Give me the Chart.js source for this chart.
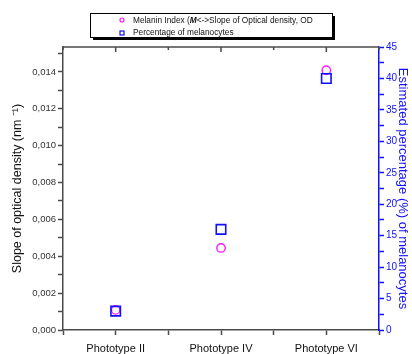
<!DOCTYPE html>
<html>
<head>
<meta charset="utf-8">
<script src="https://cdn.jsdelivr.net/npm/chart.js@4.4.1/dist/chart.umd.min.js"></script>
<style>
  html, body { margin: 0; padding: 0; background: #fff; }
  #wrap { width: 412px; height: 354px; }
</style>
</head>
<body>
<div id="wrap"><canvas id="chart" width="412" height="354"></canvas></div>
<script>
// values
const categories = ['Phototype II', 'Phototype IV', 'Phototype VI'];
const melaninIndex = [0.00109, 0.00445, 0.01409];   // left axis, slope of OD
const melanocytes = [3, 16, 40];                    // right axis, %
const leftTicks = [0, 0.002, 0.004, 0.006, 0.008, 0.010, 0.012, 0.014];
const rightTicks = [0, 5, 10, 15, 20, 25, 30, 35, 40, 45];

const magenta = '#ff1aff';
const blue = '#1010ff';
const axisGrey = '#4a4a4a';
const font = "'Liberation Sans', Arial, sans-serif";

function fmtComma(v) {
    return v.toFixed(3).replace('.', ',');
}

// legend box + top frame drawn by hand
const framePlugin = {
    id: 'frame',
    afterDraw(chart) {
        const ctx = chart.ctx;
        const area = chart.chartArea;
        const x = chart.scales.x;
        ctx.save();
        // top border with inward ticks
        ctx.strokeStyle = axisGrey;
        ctx.lineWidth = 1.5;
        ctx.beginPath();
        ctx.moveTo(area.left, area.top);
        ctx.lineTo(area.right, area.top);
        ctx.stroke();
        x.ticks.forEach((t) => {
            const px = x.getPixelForValue(t.value);
            const len = Number.isInteger(t.value) ? 5 : 3;
            ctx.beginPath();
            ctx.moveTo(px, area.top);
            ctx.lineTo(px, area.top + len);
            ctx.stroke();
        });

        // legend
        const bx = 90, by = 13, bw = 242, bh = 24;
        ctx.fillStyle = '#000';
        ctx.fillRect(bx + 3, by + 3, bw, bh);
        ctx.fillStyle = '#fff';
        ctx.fillRect(bx, by, bw, bh);
        ctx.strokeStyle = '#000';
        ctx.lineWidth = 1;
        ctx.strokeRect(bx + 0.5, by + 0.5, bw, bh);

        ctx.lineWidth = 1.2;
        ctx.strokeStyle = magenta;
        ctx.beginPath();
        ctx.arc(122, 20, 2, 0, Math.PI * 2);
        ctx.stroke();
        ctx.strokeStyle = blue;
        ctx.strokeRect(120, 31, 4, 4);

        ctx.fillStyle = '#111';
        ctx.textBaseline = 'middle';
        let tx = 133;
        const parts = [
            ['Melanin Index (', '8.3px '],
            ['M', 'italic bold 8.3px '],
            ['<->Slope of Optical density, OD', '8.3px ']
        ];
        parts.forEach((p) => {
            ctx.font = p[1] + font;
            ctx.fillText(p[0], tx, 20.5);
            tx += ctx.measureText(p[0]).width;
        });
        ctx.font = '8.3px ' + font;
        ctx.fillText('Percentage of melanocytes', 133, 33);
        ctx.restore();
    }
};

const ctx = document.getElementById('chart').getContext('2d');
const myChart = new Chart(ctx, {
    type: 'scatter',
    data: {
        datasets: [{
            label: 'Percentage of melanocytes',
            data: melanocytes.map((v, i) => ({ x: i + 1, y: v })),
            yAxisID: 'y2',
            pointStyle: 'rect',
            pointRadius: 6.7,
            borderColor: blue,
            backgroundColor: 'rgba(0,0,0,0)',
            borderWidth: 1.6,
            order: 0
        }, {
            label: 'Melanin Index (M)<->Slope of Optical density, OD',
            data: melaninIndex.map((v, i) => ({ x: i + 1, y: v })),
            yAxisID: 'y',
            pointStyle: 'circle',
            pointRadius: 4.2,
            borderColor: magenta,
            backgroundColor: 'rgba(0,0,0,0)',
            borderWidth: 1.4,
            order: 1
        }]
    },
    options: {
        responsive: false,
        animation: false,
        layout: { padding: { top: 47, left: 0, right: 0, bottom: 0 } },
        plugins: {
            legend: { display: false },
            tooltip: { enabled: false }
        },
        scales: {
            x: {
                type: 'linear',
                position: 'bottom',
                min: 0.5,
                max: 3.5,
                ticks: {
                    stepSize: 0.5,
                    autoSkip: false,
                    maxRotation: 0,
                    padding: 7,
                    color: '#111',
                    font: { family: font, size: 11 },
                    callback: (v) => Number.isInteger(v) ? categories[v - 1] : ''
                },
                grid: {
                    drawOnChartArea: false,
                    tickLength: 5,
                    tickColor: axisGrey,
                    tickWidth: 1.5
                },
                border: { color: axisGrey, width: 1.5 },
                afterFit: (s) => { s.height = 24; }
            },
            y: {
                position: 'left',
                min: 0,
                max: 0.01535,
                afterBuildTicks: (s) => {
                    const t = [];
                    for (let i = 0; i <= 15; i++) t.push({ value: i * 0.001 });
                    s.ticks = t;
                },
                ticks: {
                    padding: 2,
                    color: '#333',
                    font: { family: font, size: 9.5 },
                    callback: (v) => {
                        const hit = leftTicks.find((t) => Math.abs(t - v) < 1e-7);
                        return hit !== undefined ? fmtComma(hit) : '';
                    }
                },
                grid: {
                    drawOnChartArea: false,
                    tickLength: 5,
                    tickColor: axisGrey,
                    tickWidth: 1.5
                },
                border: { color: axisGrey, width: 1.5 },
                title: {
                    display: true,
                    text: 'Slope of optical density (nm \u207B\u00B9)',
                    color: '#111',
                    font: { family: font, size: 12.5 },
                    padding: { top: 10, bottom: 2 }
                },
                afterFit: (s) => { s.width = 63; }
            },
            y2: {
                position: 'right',
                min: 0,
                max: 45,
                ticks: {
                    stepSize: 2.5,
                    padding: 2,
                    color: blue,
                    font: { family: font, size: 10 },
                    callback: (v) => rightTicks.includes(v) ? String(v) : ''
                },
                grid: {
                    drawOnChartArea: false,
                    tickLength: 5,
                    tickColor: blue,
                    tickWidth: 1.5
                },
                border: { color: blue, width: 1.5 },
                title: {
                    display: true,
                    text: 'Estimated percentage (%) of melanocytes',
                    color: blue,
                    font: { family: font, size: 13 },
                    padding: { top: 2, bottom: 0 }
                },
                afterFit: (s) => { s.width = 33; }
            }
        }
    },
    plugins: [framePlugin]
});
</script>
</body>
</html>
